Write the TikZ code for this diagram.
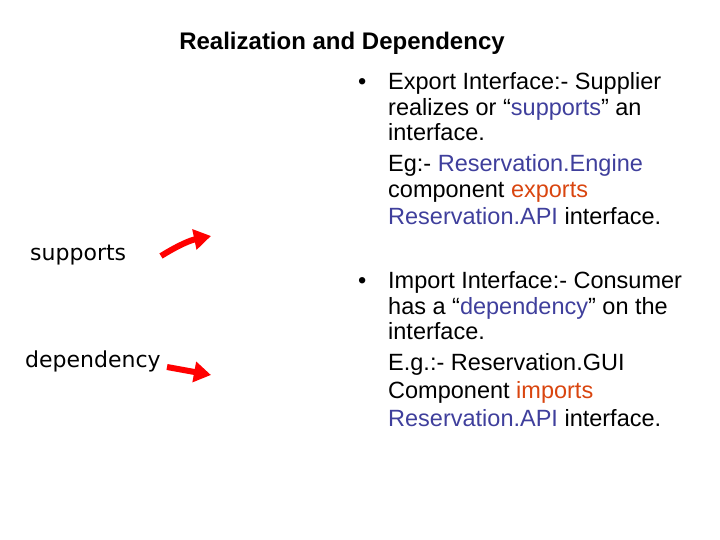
\documentclass[tikz,border=0pt]{standalone}
\usepackage{fontspec}
\setmainfont{Liberation Sans}
\newfontfamily\lblfont{DejaVu Sans}
\usetikzlibrary{arrows.meta}
\definecolor{myblue}{HTML}{3F3F9C}
\definecolor{myorange}{HTML}{D9450F}
\tikzset{
  txt/.style={anchor=base west,inner sep=0pt,font=\fontsize{23.5}{28}\selectfont},
  lbl/.style={anchor=base west,inner sep=0pt,font=\lblfont\fontsize{22}{26}\selectfont},
  redarrow/.style={draw=red,line width=6pt,-{Triangle[length=17pt,width=20pt]}}
}
\begin{document}
\begin{tikzpicture}[x=1pt,y=-1pt]
\useasboundingbox (0,0) rectangle (720,540);
\node[anchor=base,inner sep=0pt,font=\bfseries\fontsize{24}{28}\selectfont] (title) at (342,50) {Realization and Dependency};
\node[txt] (b1) at (358,90) {\textbullet};
\node[txt] (l1) at (388,90) {Export Interface:- Supplier};
\node[txt] (l2) at (388,116) {realizes or \textquotedblleft{}\textcolor{myblue}{supports}\textquotedblright{} an};
\node[txt] (l3) at (388,141) {interface.};
\node[txt] (l4) at (388,172) {Eg:- \textcolor{myblue}{Reservation.Engine}};
\node[txt] (l5) at (388,198) {component \textcolor{myorange}{exports}};
\node[txt] (l6) at (388,225) {\textcolor{myblue}{Reservation.API} interface.};
\node[txt] (b2) at (358,288) {\textbullet};
\node[txt] (m1) at (388,288) {Import Interface:- Consumer};
\node[txt] (m2) at (388,314) {has a \textquotedblleft{}\textcolor{myblue}{dependency}\textquotedblright{} on the};
\node[txt] (m3) at (388,339) {interface.};
\node[txt] (m4) at (388,370) {E.g.:- Reservation.GUI};
\node[txt] (m5) at (388,398) {Component \textcolor{myorange}{imports}};
\node[txt] (m6) at (388,426) {\textcolor{myblue}{Reservation.API} interface.};
\node[lbl] (sup) at (30,260) {supports};
\node[lbl] (dep) at (25,367) {dependency};
\coordinate (s1) at (161,256);
\coordinate (s2) at (211,236);
\coordinate (d1) at (167,367);
\coordinate (d2) at (211,375);
\draw[redarrow] (s1) to[bend left=10] (s2);
\draw[redarrow] (d1) -- (d2);
\end{tikzpicture}
\end{document}
